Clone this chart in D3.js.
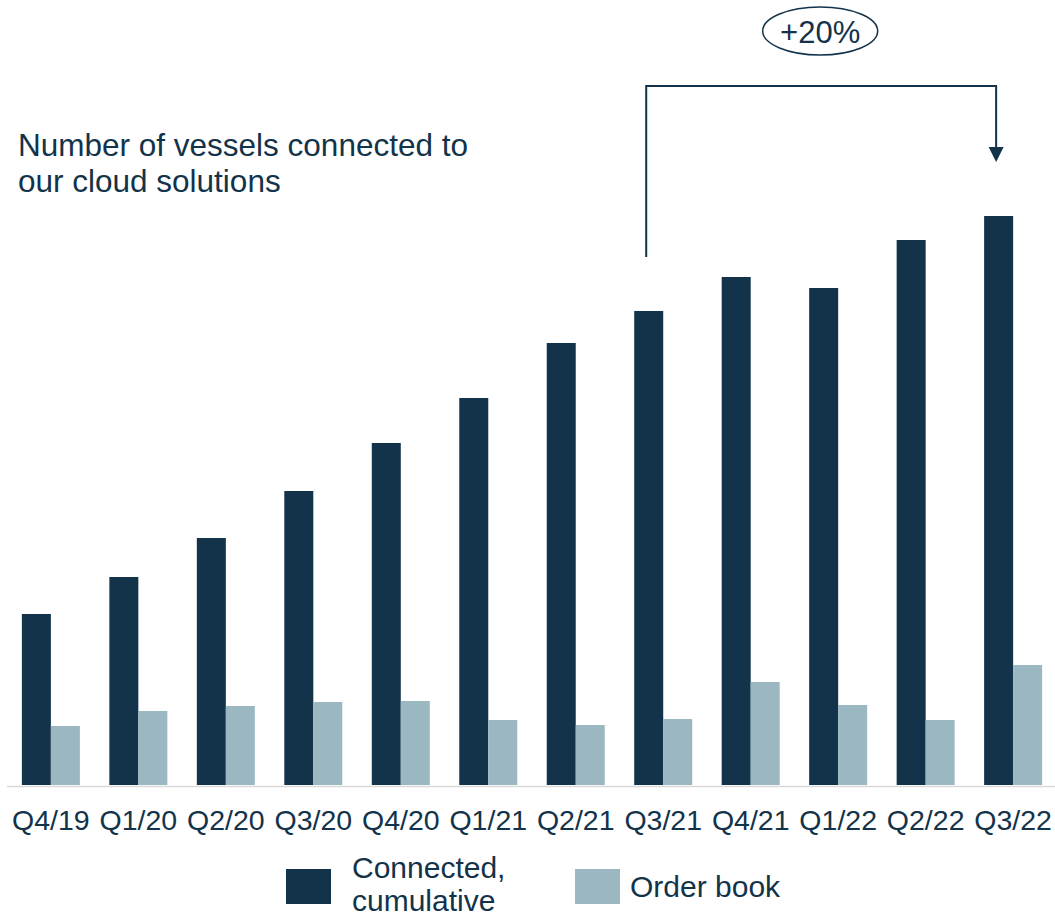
<!DOCTYPE html>
<html>
<head>
<meta charset="utf-8">
<script src="https://cdn.jsdelivr.net/npm/d3@7"></script>
<style>
  html, body { margin: 0; padding: 0; background: #ffffff; }
  svg { display: block; }
  text { font-family: "Liberation Sans", Arial, sans-serif; fill: #12334a; }
</style>
</head>
<body>
<svg id="chart" width="1055" height="918"></svg>
<script>
// Quarterly vessel counts
const quarters = ["Q4/19","Q1/20","Q2/20","Q3/20","Q4/20","Q1/21","Q2/21","Q3/21","Q4/21","Q1/22","Q2/22","Q3/22"];
const connectedCumulative = [171, 208, 247, 294, 342, 387, 442, 474, 508, 497, 545, 569];
const orderBook = [59, 74, 79, 83, 84, 65, 60, 66, 103, 80, 65, 120];
const seriesKeys = ["connected", "order"];
const seriesLabels = [["Connected,", "cumulative"], ["Order book"]];
const growthFrom = "Q3/21";
const growthTo = "Q3/22";

const colors = { connected: "#12334a", order: "#9bb7c2" };
const ink = "#12334a";

const svg = d3.select("#chart");

const baseY = 785;
const y = d3.scaleLinear().domain([0, 600]).range([baseY, baseY - 600]);

const x = d3.scaleBand()
  .domain(quarters)
  .range([7, 1057])
  .paddingInner(0.337)
  .paddingOuter(0.17);

const xs = d3.scaleBand()
  .domain(seriesKeys)
  .range([0, x.bandwidth()])
  .padding(0);

const rows = quarters.map((q, i) => ({
  q,
  connected: connectedCumulative[i],
  order: orderBook[i]
}));

// Baseline
svg.append("line")
  .attr("x1", 7).attr("x2", 1055)
  .attr("y1", baseY + 1.5).attr("y2", baseY + 1.5)
  .attr("stroke", "#d9d9d9")
  .attr("stroke-width", 1.5);

// Bars
const groups = svg.append("g").selectAll("g")
  .data(rows)
  .join("g")
  .attr("transform", d => `translate(${x(d.q)},0)`);

groups.selectAll("rect")
  .data(d => seriesKeys.map(k => ({ key: k, value: d[k] })))
  .join("rect")
  .attr("x", d => xs(d.key))
  .attr("width", xs.bandwidth())
  .attr("y", d => y(d.value))
  .attr("height", d => y(0) - y(d.value))
  .attr("fill", d => colors[d.key]);

// Category axis
const xAxis = svg.append("g")
  .attr("transform", `translate(0,${baseY})`)
  .call(d3.axisBottom(x).tickSize(0).tickPadding(0));
xAxis.select(".domain").remove();
xAxis.selectAll("text")
  .attr("y", 45)
  .attr("dy", null)
  .style("font-size", "28.5px")
  .style("fill", ink);

// Title
const title = svg.append("text")
  .attr("x", 18)
  .style("font-size", "31.5px");
title.append("tspan").attr("x", 18).attr("y", 156).text("Number of vessels connected to");
title.append("tspan").attr("x", 18).attr("y", 192).text("our cloud solutions");

// Growth bracket from Q3/21 to Q3/22
const i0 = quarters.indexOf(growthFrom);
const i1 = quarters.indexOf(growthTo);
const xLeft = x(growthFrom) + xs(seriesKeys[0]) + xs.bandwidth() / 2 - 2.5;
const xRight = x(growthTo) + xs(seriesKeys[0]) + xs.bandwidth() / 2 - 2.5;
const yTopLine = 86;
const gap = 54;
const yLeftEnd = y(connectedCumulative[i0]) - gap;
const yArrowTip = y(connectedCumulative[i1]) - gap;

svg.append("path")
  .attr("d", `M${xLeft},${yLeftEnd} V${yTopLine} H${xRight} V${yArrowTip - 13}`)
  .attr("fill", "none")
  .attr("stroke", ink)
  .attr("stroke-width", 2);

svg.append("path")
  .attr("d", `M${xRight - 7.5},${yArrowTip - 15} L${xRight + 7.5},${yArrowTip - 15} L${xRight},${yArrowTip} Z`)
  .attr("fill", ink);

// Growth label
const growthPct = Math.round((connectedCumulative[i1] / connectedCumulative[i0] - 1) * 100);
const labelX = (xLeft + xRight) / 2 - 1;
svg.append("ellipse")
  .attr("cx", labelX).attr("cy", 31)
  .attr("rx", 57.5).attr("ry", 24)
  .attr("fill", "none")
  .attr("stroke", ink)
  .attr("stroke-width", 1.5);
svg.append("text")
  .attr("x", labelX).attr("y", 42.5)
  .attr("text-anchor", "middle")
  .style("font-size", "31px")
  .text(`+${growthPct}%`);

// Legend
const legend = svg.append("g");
const legendItems = [
  { key: "connected", sx: 286, tx: 352 },
  { key: "order", sx: 575, tx: 630 }
];
legendItems.forEach((it, i) => {
  legend.append("rect")
    .attr("x", it.sx).attr("y", 869)
    .attr("width", 45).attr("height", 35)
    .attr("fill", colors[it.key]);
  const lines = seriesLabels[i];
  const t = legend.append("text").style("font-size", "30px");
  const y0 = lines.length === 1 ? 897 : 878;
  lines.forEach((ln, j) => {
    t.append("tspan").attr("x", it.tx).attr("y", y0 + j * 33).text(ln);
  });
});
</script>
</body>
</html>
